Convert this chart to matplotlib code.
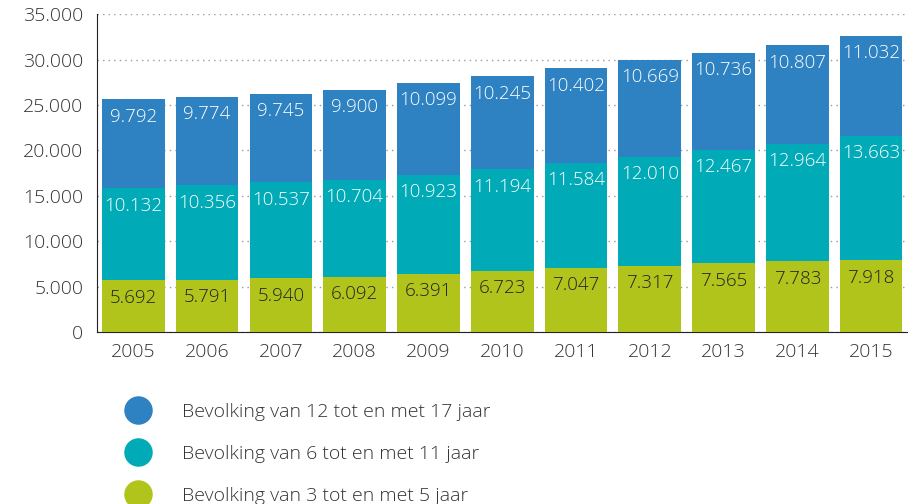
import matplotlib.pyplot as plt
from matplotlib.lines import Line2D
from matplotlib.ticker import FuncFormatter
import numpy as np

plt.rcParams['font.family'] = ['Open Sans', 'DejaVu Sans']

years = ['2005', '2006', '2007', '2008', '2009', '2010',
         '2011', '2012', '2013', '2014', '2015']
age_3_5 = [5692, 5791, 5940, 6092, 6391, 6723, 7047, 7317, 7565, 7783, 7918]
age_6_11 = [10132, 10356, 10537, 10704, 10923, 11194, 11584, 12010, 12467, 12964, 13663]
age_12_17 = [9792, 9774, 9745, 9900, 10099, 10245, 10402, 10669, 10736, 10807, 11032]
series_labels = ['Bevolking van 3 tot en met 5 jaar',
                 'Bevolking van 6 tot en met 11 jaar',
                 'Bevolking van 12 tot en met 17 jaar']

colors = ['#b1c41c', '#00abb7', '#2f82c2']
text_colors = ['#222222', 'white', 'white']


def dotted(v):
    # dutch style thousands separator
    return f'{int(v):,}'.replace(',', '.')


fig = plt.figure(figsize=(9.08, 5.04), dpi=100)
ax = fig.add_axes([0.107, 0.341, 0.893, 0.631])

x = np.arange(len(years))
bottom = np.zeros(len(years))
for vals, col, tcol in zip([age_3_5, age_6_11, age_12_17], colors, text_colors):
    vals = np.array(vals)
    ax.bar(x, vals, bottom=bottom, width=0.85, color=col, zorder=3)
    for xi, b, v in zip(x, bottom, vals):
        ax.annotate(dotted(v), (xi, b + v), xytext=(0, -12.5), textcoords='offset points',
                    ha='center', va='center', color=tcol, fontsize=13.5,
                    fontweight='light', zorder=4)
    bottom = bottom + vals

ax.set_xlim(-0.49, 10.5)
ax.set_ylim(0, 35000)
ax.set_yticks(np.arange(0, 35001, 5000))
ax.yaxis.set_major_formatter(FuncFormatter(lambda v, p: dotted(v)))
ax.set_xticks(x)
ax.set_xticklabels(years)
ax.tick_params(length=0, labelsize=14, colors='#333333', pad=8)
ax.tick_params(axis='y', pad=10)
for lab in ax.get_xticklabels() + ax.get_yticklabels():
    lab.set_fontweight('light')

ax.grid(axis='y', linestyle=(0, (1, 3)), color='#999999', linewidth=1, zorder=0)
for s in ['top', 'right']:
    ax.spines[s].set_visible(False)
ax.spines['left'].set_color('#222222')
ax.spines['bottom'].set_color('#222222')

# legend: blue on top, green at the bottom
handles = [Line2D([], [], marker='o', linestyle='none', markersize=19.5,
                  markerfacecolor=c, markeredgecolor=c) for c in colors[::-1]]
leg = fig.legend(handles, series_labels[::-1], loc='upper left', bbox_to_anchor=(0.1225, 0.216),
                 frameon=False, fontsize=14, labelspacing=1.24, handletextpad=1.25,
                 labelcolor='#333333', borderaxespad=0)
for t in leg.get_texts():
    t.set_fontweight('light')

fig.savefig('out.png', dpi=100)
